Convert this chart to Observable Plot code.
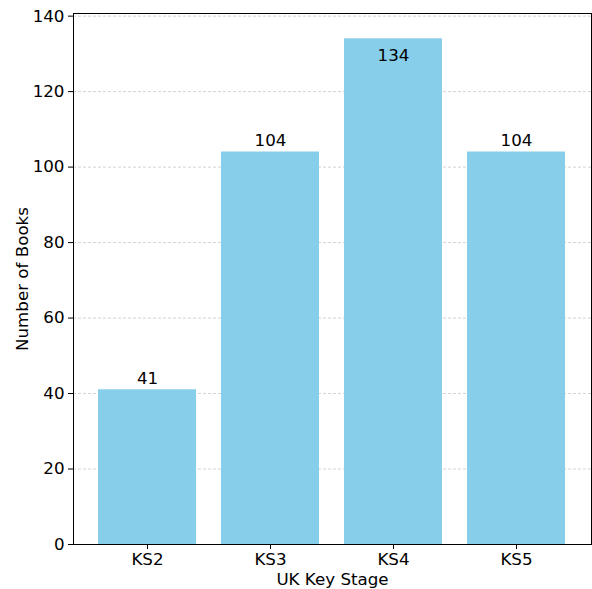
<!DOCTYPE html>
<html>
<head>
<meta charset="utf-8">
<script src="https://cdn.jsdelivr.net/npm/d3@7"></script>
<script src="https://cdn.jsdelivr.net/npm/@observablehq/plot@0.6"></script>
<style>
  html, body { margin: 0; padding: 0; background: #fff; }
  #chart svg { display: block; }
</style>
</head>
<body>
<div id="chart"></div>
<script>
const stages = ["KS2", "KS3", "KS4", "KS5"];
const counts = [41, 104, 134, 104];
const yTicks = [0, 20, 40, 60, 80, 100, 120, 140];

const data = stages.map((s, i) => ({stage: s, count: counts[i]}));
const maxCount = d3.max(counts);
const yMax = maxCount * 1.05;
const font = "DejaVu Sans, sans-serif";
const fs = 16.7;

const chart = Plot.plot({
  width: 592,
  height: 589,
  marginLeft: 73,
  marginRight: 1,
  marginTop: 13,
  marginBottom: 45,
  style: {fontFamily: font, fontSize: fs + "px", color: "#000", background: "#fff"},
  x: {type: "band", domain: stages, paddingInner: 0.2, paddingOuter: 0.19},
  y: {domain: [0, yMax]},
  marks: [
    Plot.gridY(yTicks, {stroke: "#b0b0b0", strokeOpacity: 0.7, strokeWidth: 0.8, strokeDasharray: "3,2"}),
    Plot.barY(data, {x: "stage", y: "count", fill: "#87CEEB"}),
    Plot.text(data.filter(d => d.count < 0.95 * maxCount), {x: "stage", y: "count", text: d => String(d.count), dy: -11, fontSize: fs, fill: "#000"}),
    Plot.text(data.filter(d => d.count >= 0.95 * maxCount), {x: "stage", y: "count", text: d => String(d.count), dy: 17, fontSize: fs, fill: "#000"}),
    Plot.frame({stroke: "#000", strokeWidth: 1}),
    Plot.axisY(yTicks, {tickSize: 5, tickPadding: 4, fontSize: fs, label: null, stroke: "#000"}),
    Plot.axisX({tickSize: 5, tickPadding: 4, fontSize: fs, label: null, stroke: "#000"}),
    Plot.text(["Number of Books"], {frameAnchor: "left", textAnchor: "middle", lineAnchor: "middle", dx: -51, rotate: -90, fontSize: fs, fill: "#000"}),
    Plot.text(["UK Key Stage"], {frameAnchor: "bottom", textAnchor: "middle", lineAnchor: "middle", dy: 35, fontSize: fs, fill: "#000"})
  ]
});
document.getElementById("chart").append(chart);
</script>
</body>
</html>
